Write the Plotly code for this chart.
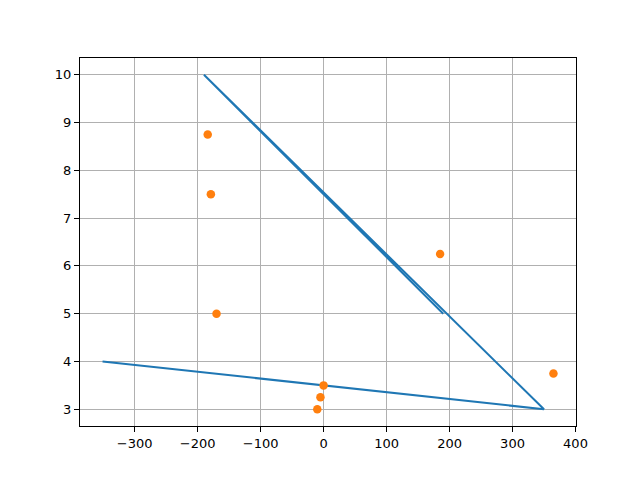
import plotly.graph_objects as go

line_x = [-351, 350, -190, 190]
line_y = [4, 3, 10, 5]

pts_x = [-184, -179, -170, 185, 365, 0, -5, -10]
pts_y = [8.75, 7.5, 5, 6.25, 3.75, 3.5, 3.25, 3]

x_ticks = [-300, -200, -100, 0, 100, 200, 300, 400]
y_ticks = [3, 4, 5, 6, 7, 8, 9, 10]

def padded(vals, frac=0.05):
    lo, hi = min(vals), max(vals)
    d = (hi - lo) * frac
    return [lo - d, hi + d]

fig = go.Figure()
fig.add_trace(go.Scatter(x=line_x, y=line_y, mode="lines",
                         line=dict(color="#1f77b4", width=2), showlegend=False))
fig.add_trace(go.Scatter(x=pts_x, y=pts_y, mode="markers",
                         marker=dict(color="#ff7f0e", size=8.5), showlegend=False))

axis_common = dict(showline=True, mirror=True, linecolor="black", linewidth=1,
                   ticks="outside", ticklen=5, tickwidth=1, tickcolor="black",
                   showgrid=True, gridcolor="#b0b0b0", gridwidth=1,
                   zeroline=False, tickfont=dict(family="DejaVu Sans", size=13, color="black"))

xr = padded(line_x + pts_x)
xr[1] = max(xr[1], 400.5)
fig.update_xaxes(range=xr, tickvals=x_ticks,
                 ticktext=[str(v).replace("-", "\u2212") for v in x_ticks], **axis_common)
fig.update_yaxes(range=padded(line_y + pts_y), tickvals=y_ticks,
                 ticktext=[str(v) for v in y_ticks], **axis_common)

fig.update_layout(width=640, height=480, margin=dict(l=80, r=64, t=58, b=54),
                  plot_bgcolor="white", paper_bgcolor="white",
                  font=dict(family="DejaVu Sans", size=13, color="black"))

fig.write_html("out.html")
